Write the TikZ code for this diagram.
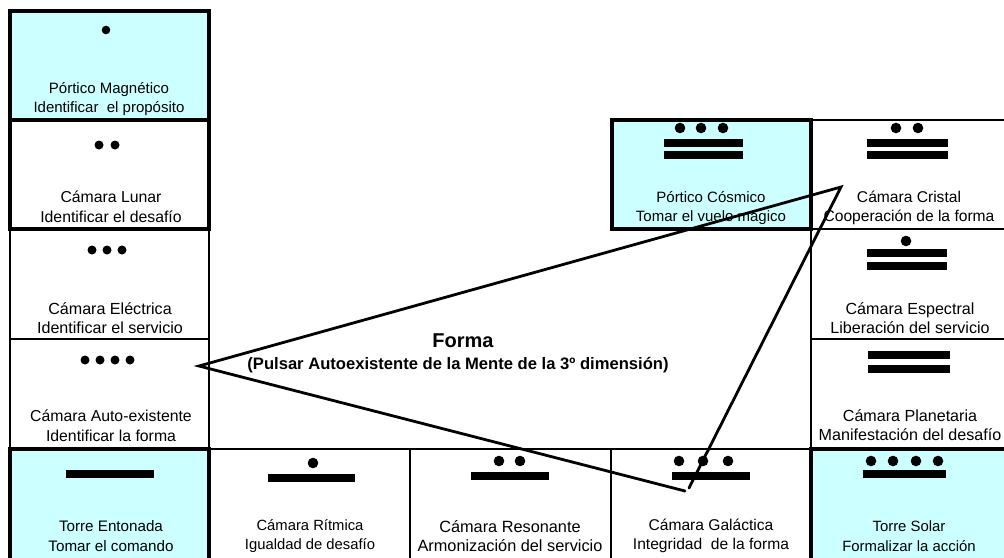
\documentclass[tikz,border=0pt]{standalone}
\usepackage{fontspec}
\setmainfont{Liberation Sans}
\usetikzlibrary{positioning, calc}
\definecolor{torrecyan}{RGB}{204, 255, 255}

\tikzset{
  room/.style={draw=black, line width=1.7pt},
  gate/.style={draw=black, line width=3.2pt},
  roomlabel/.style={align=center, inner sep=0pt, font=\fontsize{16}{19.5}\selectfont},
  labelsize/.style={font=\fontsize{#1}{19.5}\selectfont},
  formalabel/.style={align=center, inner sep=0pt, font=\bfseries\fontsize{16.6}{19}\selectfont},
  pulse/.style={black, line width=2.8pt, line cap=round},
  mayadot/.style={fill=black},
}
% one bar of a Maya number: x from, x to, y of its middle
\newcommand{\mayabar}[3]{\fill (#1,{#3-3.6}) rectangle (#2,{#3+3.6});}

\begin{document}
\begin{tikzpicture}[x=1pt, y=-1pt]

  \useasboundingbox (0,0) rectangle (1004,557);
  \clip (0,0) rectangle (1004,557);

  % --- Left column ---
  \draw[room] (10,229) rectangle (209,339);
  \draw[room] (10,339) rectangle (209,449);
  \draw[gate, fill=torrecyan] (10,11) rectangle (209,120);
  \draw[gate] (10,120) rectangle (209,229);

  % --- Right column ---
  \draw[room] (811,120) rectangle (1010,229);
  \draw[room] (811,229) rectangle (1010,339);
  \draw[room] (811,339) rectangle (1010,449);
  \draw[gate, fill=torrecyan] (612,120) rectangle (811,229);

  % --- Bottom row ---
  \draw[room] (209,449) rectangle (410,565);
  \draw[room] (410,449) rectangle (611,565);
  \draw[room] (611,449) rectangle (811,565);
  \draw[gate, fill=torrecyan] (10,449) rectangle (209,565);
  \draw[gate, fill=torrecyan] (811,449) rectangle (1010,565);

  % --- Numbers ---
  \fill[mayadot] (106,30) circle (4.3);
  \foreach \x in {99, 115} \fill[mayadot] (\x,145) circle (4.5);
  \foreach \x in {92, 107, 122} \fill[mayadot] (\x,250) circle (4.5);
  \foreach \x in {85, 100, 115, 130} \fill[mayadot] (\x,360) circle (4.5);

  \mayabar{66}{154}{474}
  \fill[mayadot] (313,463) circle (5.3);
  \mayabar{268}{355}{478}
  \foreach \x in {499, 520} \fill[mayadot] (\x,461) circle (5.3);
  \mayabar{471}{549}{476}
  \foreach \x in {679, 703, 728} \fill[mayadot] (\x,461) circle (5.3);
  \mayabar{672}{750}{476}
  \foreach \x in {871, 893, 916, 938} \fill[mayadot] (\x,461) circle (5.3);
  \mayabar{863}{946}{474}

  \foreach \x in {680, 701, 723} \fill[mayadot] (\x,128) circle (5.3);
  \mayabar{664}{743}{143}
  \mayabar{664}{743}{155}
  \foreach \x in {896, 918} \fill[mayadot] (\x,128) circle (5.3);
  \mayabar{867}{948}{143}
  \mayabar{867}{948}{155}
  \fill[mayadot] (906,241) circle (5.3);
  \mayabar{867}{947}{253}
  \mayabar{867}{947}{266}
  \mayabar{868}{950}{355}
  \mayabar{868}{950}{369}

  % --- Labels ---
  \node[roomlabel, font=\fontsize{15}{18.5}\selectfont] (magnetico) at (109,99) {Pórtico Magnético\\Identificar\ \ el propósito};
  \node[roomlabel, labelsize=15.8] (lunar) at (111,207) {Cámara Lunar\\Identificar el desafío};
  \node[roomlabel, labelsize=16.1] (electrica) at (110,318) {Cámara Eléctrica\\Identificar el servicio};
  \node[roomlabel, labelsize=15.8] (autoexist) at (111,426) {Cámara Auto-existente\\Identificar la forma};
  \node[roomlabel, labelsize=15.2] (entonada) at (111,536) {Torre Entonada\\Tomar el comando};
  \node[roomlabel, labelsize=14.8] (ritmica) at (310,536) {Cámara Rítmica\\Igualdad de desafío};
  \node[roomlabel, labelsize=16.3] (resonante) at (510,536) {Cámara Resonante\\Armonización del servicio};
  \node[roomlabel, labelsize=15.6] (galactica) at (711,536) {Cámara Galáctica\\Integridad\ \ de la forma};
  \node[roomlabel, labelsize=14.9] (solar) at (909,536) {Torre Solar\\Formalizar la acción};
  \node[roomlabel, labelsize=15] (cosmico) at (711,208) {Pórtico Cósmico\\Tomar el vuelo mágico};
  \node[roomlabel, labelsize=15.6] (cristal) at (909,208) {Cámara Cristal\\Cooperación de la forma};
  \node[roomlabel, labelsize=16.1] (espectral) at (910,318) {Cámara Espectral\\Liberación del servicio};
  \node[roomlabel, labelsize=16.1] (planetaria) at (910,425) {Cámara Planetaria\\Manifestación del desafío};

  \node[formalabel, font=\bfseries\fontsize{20}{22}\selectfont] (forma) at (463,341) {Forma};
  \node[formalabel] (pulsar) at (458,365) {(Pulsar Autoexistente de la Mente de la 3º dimensión)};

  % --- Triangle ---
  \coordinate (triL) at (199,366);
  \coordinate (triT) at (841,187);
  \coordinate (triB1) at (685,491);
  \coordinate (triB2) at (689,488);
  \draw[pulse] (triB1) -- (triL) -- (triT) -- (triB2);

\end{tikzpicture}
\end{document}
